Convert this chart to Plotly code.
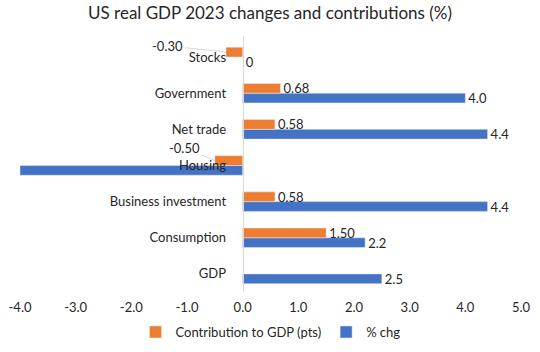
import plotly.graph_objects as go

categories = ["GDP", "Consumption", "Business investment", "Housing", "Net trade", "Government", "Stocks"]
contribution = [None, 1.50, 0.58, -0.50, 0.58, 0.68, -0.30]
pct_chg = [2.5, 2.2, 4.4, -4.0, 4.4, 4.0, 0.0]
tick_vals = [-4, -3, -2, -1, 0, 1, 2, 3, 4, 5]
tick_text = ["-4.0", "-3.0", "-2.0", "-1.0", "0.0", "1.0", "2.0", "3.0", "4.0", "5.0"]

ORANGE = "#ED7D31"
BLUE = "#4472C4"
FONT = "Lato"
TXT = "#262626"
FS = 13

# labels: negative contributions get callout annotations instead of inline text
contrib_text = ["" if (v is None or v < 0) else f"{v:.2f}" for v in contribution]
pct_text = ["0" if v == 0 else ("" if v <= -4 else f"{v:.1f}") for v in pct_chg]

fig = go.Figure()
fig.add_trace(go.Bar(
    y=categories, x=pct_chg, orientation="h", name="% chg",
    marker_color=BLUE, text=pct_text, textposition="outside",
    constraintext="none",
    textfont=dict(size=FS, color=TXT, family=FONT),
    cliponaxis=False, legendrank=2,
))
fig.add_trace(go.Bar(
    y=categories, x=contribution, orientation="h", name="Contribution to GDP (pts)",
    marker_color=ORANGE, text=contrib_text, textposition="outside",
    constraintext="none",
    textfont=dict(size=FS, color=TXT, family=FONT),
    cliponaxis=False, legendrank=1,
))

callouts = {"Stocks": (-58, -6), "Housing": (-30, -12)}
for cat, (ax, ay) in callouts.items():
    i = categories.index(cat)
    v = contribution[i]
    fig.add_annotation(
        x=v, y=i, yshift=5, text=f"{v:.2f}", showarrow=True, arrowhead=0,
        arrowwidth=0.6, arrowcolor="#bfbfbf", ax=ax, ay=ay,
        font=dict(size=FS, color=TXT, family=FONT),
    )

x_min, x_max = -4, 5
fig.update_layout(
    width=540, height=352,
    margin=dict(l=20, r=19, t=36, b=60, autoexpand=False),
    paper_bgcolor="white", plot_bgcolor="white",
    barmode="group", bargap=0.46, bargroupgap=0,
    title=dict(text="US real GDP 2023 changes and contributions (%)",
               x=0.5, xanchor="center", y=0.963, yanchor="middle",
               font=dict(size=17, color=TXT, family=FONT)),
    font=dict(family=FONT, size=FS, color=TXT),
    showlegend=True,
    legend=dict(orientation="h", x=0.5, xanchor="center",
                yref="container", y=20 / 352, yanchor="middle",
                font=dict(size=FS, color=TXT, family=FONT),
                itemwidth=30, traceorder="normal"),
    xaxis=dict(range=[x_min, x_max], tickvals=tick_vals, ticktext=tick_text,
               showgrid=False, zeroline=False, showline=False, ticks="",
               ticklabelstandoff=6,
               tickfont=dict(size=FS, color=TXT, family=FONT)),
    yaxis=dict(categoryorder="array", categoryarray=categories,
               anchor="free", position=(0 - x_min) / (x_max - x_min),
               showline=True, linecolor="#d9d9d9", linewidth=1,
               showgrid=False, ticks="", ticklabelstandoff=14,
               tickfont=dict(size=FS, color=TXT, family=FONT)),
)

fig.write_html("out.html")
